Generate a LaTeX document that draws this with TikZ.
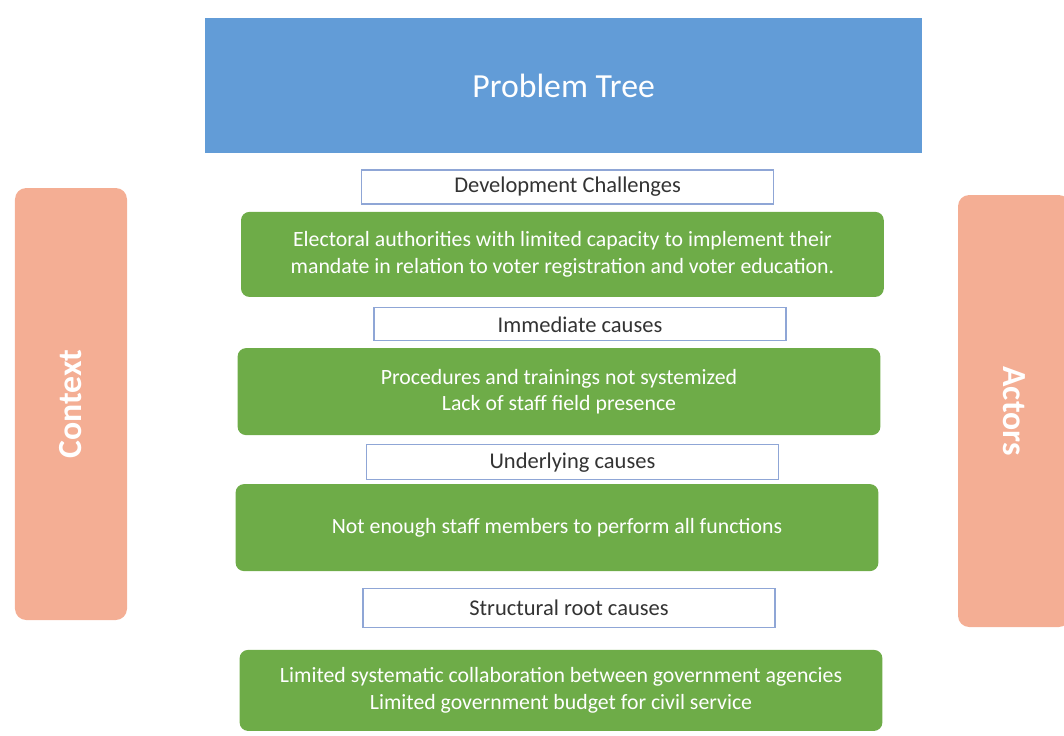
\documentclass[tikz,border=0pt]{standalone}
\usepackage{fontspec}
\setmainfont{Carlito}
\definecolor{TreeBlue}{HTML}{629CD7}
\definecolor{TreeGreen}{HTML}{6EAC48}
\definecolor{TreeSalmon}{HTML}{F4AE94}
\definecolor{LabelEdge}{HTML}{8FA6D6}
\tikzset{
  headbox/.style={fill=TreeBlue, text=white, minimum width=17.93cm, minimum height=3.375cm, font=\fontsize{24}{28}\selectfont},
  levelbox/.style={draw=LabelEdge, line width=0.8pt, fill=white, minimum width=10.3cm, text=black!80, font=\fontsize{16}{19}\selectfont},
  causebox/.style={fill=TreeGreen, text=white, rounded corners=6pt, minimum width=16.07cm, align=center, font=\fontsize{15.5}{19}\selectfont},
  sidebox/.style={fill=TreeSalmon, text=white, rounded corners=8pt, minimum width=2.8cm, minimum height=10.8cm, font=\bfseries\fontsize{24}{28}\selectfont}
}
\usetikzlibrary{positioning}

\begin{document}
\begin{tikzpicture}

\useasboundingbox (0,0) rectangle (26.6,-18.375);

\node [headbox] (tree) at (14.09,-2.14) {Problem Tree};

\node [levelbox, minimum height=0.85cm] (devlabel) at (14.19,-4.675) {Development Challenges};
\node [causebox, minimum height=2.125cm] (devbox) at (14.06,-6.36)
      {Electoral authorities with limited capacity to implement their\\
       mandate in relation to voter registration and voter education.};

\node [levelbox, minimum height=0.825cm] (immlabel) at (14.5,-8.11) {Immediate causes};
\node [causebox, minimum height=2.175cm] (immbox) at (13.975,-9.79)
      {Procedures and trainings not systemized\\ Lack of staff field presence};

\node [levelbox, minimum height=0.875cm] (undlabel) at (14.31,-11.56) {Underlying causes};
\node [causebox, minimum height=2.175cm] (undbox) at (13.925,-13.19)
      {Not enough staff members to perform all functions};

\node [levelbox, minimum height=0.975cm] (rootlabel) at (14.225,-15.19) {Structural root causes};
\node [causebox, minimum height=2.025cm] (rootbox) at (14.025,-17.26)
      {Limited systematic collaboration between government agencies\\
       Limited government budget for civil service};

% side panels
\node [sidebox] (context) at (1.775,-10.1) {\rotatebox{90}{Context}};
\node [sidebox] (actors) at (25.35,-10.275) {\rotatebox{-90}{Actors}};

\end{tikzpicture}
\end{document}
